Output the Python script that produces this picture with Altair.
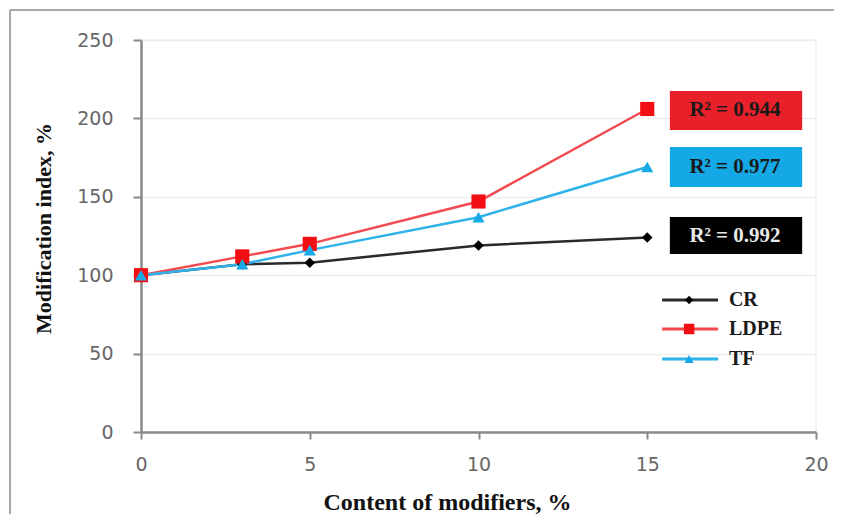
import altair as alt
import pandas as pd

# ---- data ----
x_values = [0, 3, 5, 10, 15]
series_names = ["CR", "LDPE", "TF"]
cr_values = [100, 107, 108, 119, 124]
ldpe_values = [100, 112, 120, 147, 206]
tf_values = [100, 107, 116, 137, 169]

r2_labels = ["R² = 0.944", "R² = 0.977", "R² = 0.992"]
r2_series = ["LDPE", "TF", "CR"]

x_ticks = [0, 5, 10, 15, 20]
y_ticks = [0, 50, 100, 150, 200, 250]

# ---- styles ----
line_colors = ["#2a2a2a", "#f24a4f", "#2fb2ea"]
marker_colors = ["#000000", "#f20f14", "#17a8e6"]
marker_shapes = ["diamond", "square", "triangle-up"]
marker_sizes = [110, 200, 150]
legend_sizes = [70, 110, 85]
box_fill = {"LDPE": "#e8202a", "TF": "#14a9e6", "CR": "#000000"}
box_text = {"LDPE": "#1a1a1a", "TF": "#1a1a1a", "CR": "#e8e8e8"}

# ---- layout (data-coordinate positions of annotations) ----
box_x = (15.67, 19.59)
box_text_x = 17.6
box_y = {"LDPE": (192.6, 217.5), "TF": (156.3, 181.8), "CR": (113.5, 137.1)}
legend_line_x = (15.44, 17.1)
legend_marker_x = 16.24
legend_label_x = 17.42
legend_y = [84.2, 65.7, 46.6]

rows = []
for name, vals in zip(series_names, [cr_values, ldpe_values, tf_values]):
    for xv, yv in zip(x_values, vals):
        rows.append({"series": name, "x": xv, "y": yv})
df = pd.DataFrame(rows)

X_ENC = alt.X(
    "x:Q",
    scale=alt.Scale(domain=[0, 20], nice=False, zero=False),
    axis=alt.Axis(
        values=x_ticks,
        grid=False,
        title="Content of modifiers, %",
        titleFont="Liberation Serif",
        titleFontWeight="bold",
        titleFontSize=24,
        titleColor="#111111",
        titleX=306,
        titleY=70,
        titleAlign="center",
        titleBaseline="middle",
        labelFont="DejaVu Sans",
        labelFontSize=19,
        labelColor="#666666",
        labelPadding=16,
        labelFlush=False,
        tickSize=7,
        tickWidth=2,
        tickColor="#8a8a8a",
        domainColor="#8a8a8a",
        domainWidth=2.5,
    ),
)
Y_ENC = alt.Y(
    "y:Q",
    scale=alt.Scale(domain=[0, 250], nice=False),
    axis=alt.Axis(
        values=y_ticks,
        grid=True,
        gridColor="#ededed",
        gridWidth=1.5,
        title="Modification index, %",
        titleFont="Liberation Serif",
        titleFontWeight="bold",
        titleFontSize=22,
        titleColor="#111111",
        titleAngle=270,
        titleX=-98,
        titleY=188,
        titleAlign="center",
        titleBaseline="middle",
        labelFont="DejaVu Sans",
        labelFontSize=19,
        labelColor="#666666",
        labelPadding=20,
        labelFlush=False,
        tickSize=8,
        tickWidth=2,
        tickColor="#8a8a8a",
        domainColor="#8a8a8a",
        domainWidth=2.5,
    ),
)

layers = []

# outer frame of the figure (top and left edges only)
one_row = pd.DataFrame({"x": [0]})
layers.append(
    alt.Chart(one_row).mark_rule(color="#a8a8a8", strokeWidth=2).encode(
        x=alt.value(-131), x2=alt.value(800), y=alt.value(-30)
    )
)
layers.append(
    alt.Chart(one_row).mark_rule(color="#a8a8a8", strokeWidth=2).encode(
        x=alt.value(-131), y=alt.value(-30), y2=alt.value(600)
    )
)

for i, name in enumerate(series_names):
    d = df[df.series == name]
    layers.append(
        alt.Chart(d).mark_line(color=line_colors[i], strokeWidth=2.5).encode(x=X_ENC, y=Y_ENC)
    )
for i, name in enumerate(series_names):
    d = df[df.series == name]
    layers.append(
        alt.Chart(d).mark_point(
            shape=marker_shapes[i], filled=True, opacity=1,
            color=marker_colors[i], size=marker_sizes[i]
        ).encode(x=X_ENC, y=Y_ENC)
    )

# R² boxes
box_df = pd.DataFrame({
    "label": r2_labels,
    "series": r2_series,
    "x": [box_x[0]] * 3,
    "x_end": [box_x[1]] * 3,
    "y": [box_y[s][0] for s in r2_series],
    "y_end": [box_y[s][1] for s in r2_series],
    "xt": [box_text_x] * 3,
    "yt": [(box_y[s][0] + box_y[s][1]) / 2 for s in r2_series],
})
for _, r in box_df.iterrows():
    one = pd.DataFrame([r])
    layers.append(
        alt.Chart(one).mark_rect(color=box_fill[r["series"]]).encode(
            x=X_ENC, x2="x_end:Q", y=Y_ENC, y2="y_end:Q"
        )
    )
    layers.append(
        alt.Chart(one).mark_text(
            font="Liberation Serif", fontWeight="bold", fontSize=21,
            color=box_text[r["series"]], align="center", baseline="middle"
        ).encode(x=alt.X("xt:Q", scale=alt.Scale(domain=[0, 20], nice=False)),
                 y=alt.Y("yt:Q", scale=alt.Scale(domain=[0, 250], nice=False)),
                 text="label:N")
    )

# manual legend
for i, name in enumerate(series_names):
    ly = legend_y[i]
    seg = pd.DataFrame({"x": list(legend_line_x), "y": [ly, ly]})
    layers.append(
        alt.Chart(seg).mark_line(color=line_colors[i], strokeWidth=3).encode(x=X_ENC, y=Y_ENC)
    )
    pt = pd.DataFrame({"x": [legend_marker_x], "y": [ly]})
    layers.append(
        alt.Chart(pt).mark_point(
            shape=marker_shapes[i], filled=True, opacity=1,
            color=marker_colors[i], size=legend_sizes[i]
        ).encode(x=X_ENC, y=Y_ENC)
    )
    lab = pd.DataFrame({"x": [legend_label_x], "y": [ly], "t": [name]})
    layers.append(
        alt.Chart(lab).mark_text(
            font="Liberation Serif", fontWeight="bold", fontSize=20,
            color="#1a1a1a", align="left", baseline="middle"
        ).encode(x=X_ENC, y=Y_ENC, text="t:N")
    )

chart = alt.layer(*layers).properties(
    width=675,
    height=392,
    padding={"left": 133, "top": 32, "right": 18, "bottom": 82},
    autosize=alt.AutoSizeParams(type="none"),
    background="white",
).configure_view(stroke="#eeeeee", strokeWidth=1.5)

chart.save("out.html", embed_options={"renderer": "svg", "actions": False})
